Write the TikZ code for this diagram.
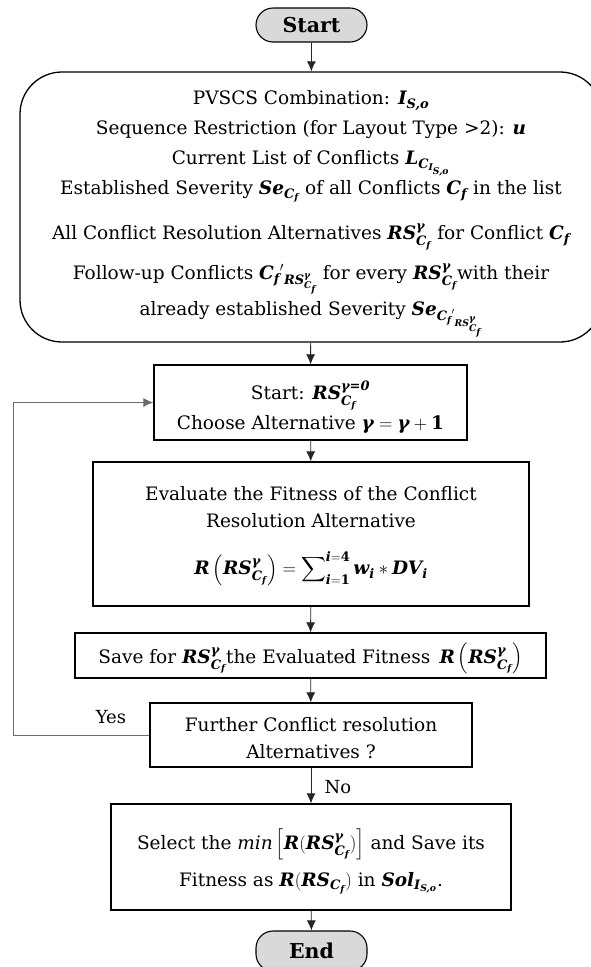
\documentclass[tikz,border=0pt]{standalone}
\usepackage{fix-cm}
\usepackage{amsmath}
\usepackage{fontspec}
\setmainfont{DejaVu Serif}
\usetikzlibrary{arrows.meta}
\newcommand\mbi[1]{\text{\bfseries\itshape #1}}
\newcommand\Cf{\mbi{C}_{\mbi{f}}}
\newcommand\RSg{\mbi{RS}^{\mbi{γ}}_{\Cf}}
\newcommand\Iso{\mbi{I}_{\mbi{S,o}}}
\tikzset{
  box/.style={draw, line width=1.3pt, inner sep=0pt},
  boxtext/.style={align=center, inner sep=0pt},
  pill/.style={draw, fill=gray!30, rounded corners=17pt, line width=1.1pt,
    minimum width=111pt, font=\bfseries\fontsize{20.5}{24}\selectfont},
  conn/.style={-{Latex[length=10pt,width=9pt]}, line width=0.8pt, draw=black!85},
  backloop/.style={-{Latex[length=10pt,width=9pt]}, line width=0.9pt, draw=gray!85!black},
  lbl/.style={font=\fontsize{18}{20}\selectfont, inner sep=0pt}
}
\begin{document}
\begin{tikzpicture}[x=1pt,y=-1pt]
\useasboundingbox (0,0) rectangle (590,967);

% boxes
\node[pill, minimum height=34pt] (startp) at (311.5,25) {Start};
\node[box, rounded corners=42pt, minimum width=582pt, minimum height=270pt] (info) at (311,207) {};
\node[box, minimum width=313pt, minimum height=75pt] (sbox) at (310.5,402.5) {};
\node[box, minimum width=436pt, minimum height=144pt] (eval) at (311,534) {};
\node[box, minimum width=471pt, minimum height=45pt] (save) at (310.5,655.5) {};
\node[box, minimum width=322pt, minimum height=64pt] (further) at (311,735) {};
\node[box, minimum width=400pt, minimum height=106pt] (select) at (311,857) {};
\node[pill, minimum height=40pt] (endp) at (311.5,951) {End};

% texts
\node[boxtext, font=\fontsize{18.5}{30}\selectfont] (infotext) at (311,214) {%
  PVSCS Combination: $\Iso$\\
  Sequence Restriction (for Layout Type >2): $\mbi{u}$\\
  Current List of Conflicts $\mbi{L}_{\mbi{C}_{\Iso}}$\\
  Established Severity $\mbi{Se}_{\Cf}$ of all Conflicts $\Cf$ in the list\\[15pt]
  All Conflict Resolution Alternatives $\RSg$ for Conflict $\Cf$\\[10pt]
  Follow-up Conflicts ${\Cf}'{}_{\RSg}$ for every $\RSg$with their\\[6pt]
  already established Severity $\mbi{Se}_{{\Cf}'{}_{\RSg}}$};

\node[boxtext, font=\fontsize{18.5}{30}\selectfont] (sboxtext) at (310.5,407.5) {%
  Start: $\mbi{RS}^{\mbi{γ=0}}_{\Cf}$\\
  Choose Alternative $\mbi{γ} = \mbi{γ} + \mathbf{1}$};

\node[boxtext, font=\fontsize{18.5}{27}\selectfont] (evaltext) at (311,536) {%
  Evaluate the Fitness of the Conflict\\
  Resolution Alternative\\[20pt]
  $\mbi{R}\left(\RSg\right) = \displaystyle\sum\nolimits_{\mbi{i}=\mathbf{1}}^{\mbi{i}=\mathbf{4}} \mbi{w}_{\mbi{i}} * \mbi{DV}_{\mbi{i}}$};

\node[boxtext, font=\fontsize{18.5}{27}\selectfont] (savetext) at (310.5,658.5) {%
  Save for $\RSg$the Evaluated Fitness\enspace$\mbi{R}\left(\RSg\right)$};

\node[boxtext, font=\fontsize{18.5}{27}\selectfont] (furthertext) at (311,738) {%
  Further Conflict resolution\\
  Alternatives ?};

\node[boxtext, font=\fontsize{18.5}{37}\selectfont] (selecttext) at (311,861.5) {%
  Select the $\text{\itshape min}\left[\mbi{R}(\RSg)\right]$ and Save its\\
  Fitness as $\mbi{R}(\mbi{RS}_{\Cf})$ in $\mbi{Sol}_{\Iso}$.};

% connectors
\draw[conn] (startp) -- (info);
\draw[conn] (info) -- (sbox);
\draw[conn] (sbox) -- (eval);
\draw[conn] (eval) -- (save);
\draw[conn] (save) -- (further);
\draw[conn] (further) -- (select);
\draw[conn] (select) -- (endp);

\coordinate (lb) at (13,735);
\coordinate (lt) at (13,402.5);
\draw[backloop] (further.west) -- (lb) -- (lt) -- (sbox.west);

\node[lbl] (yes) at (111,717) {Yes};
\node[lbl] (no) at (338,787) {No};
\end{tikzpicture}
\end{document}
